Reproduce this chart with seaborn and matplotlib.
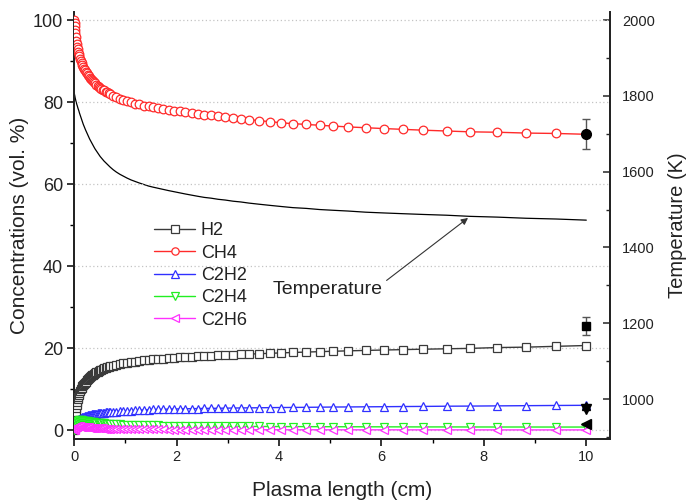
import numpy as np
import pandas as pd
import matplotlib
matplotlib.use("Agg")
import matplotlib.pyplot as plt
import seaborn as sns
from matplotlib.ticker import MultipleLocator

# ---------------- data ----------------
x_cm = [0, 0.005, 0.01, 0.015, 0.02, 0.03, 0.04, 0.05, 0.06, 0.07,
        0.08, 0.09, 0.10, 0.115, 0.13, 0.145, 0.16, 0.175, 0.19, 0.205,
        0.22, 0.24, 0.26, 0.28, 0.30, 0.32, 0.34, 0.36, 0.38, 0.405,
        0.43, 0.455, 0.48, 0.505, 0.53, 0.555, 0.58, 0.61, 0.64, 0.67,
        0.70, 0.76, 0.82, 0.89, 0.96, 1.03, 1.11, 1.19, 1.27, 1.36,
        1.45, 1.54, 1.64, 1.74, 1.84, 1.95, 2.06, 2.17, 2.29, 2.41,
        2.54, 2.67, 2.81, 2.95, 3.10, 3.25, 3.41, 3.61, 3.82, 4.04,
        4.27, 4.53, 4.79, 5.06, 5.35, 5.69, 6.04, 6.42, 6.82, 7.27,
        7.73, 8.26, 8.82, 9.41, 10.0]

h2 = [0, 1, 2, 2.8, 3.5, 4.6, 5.5, 6.3, 7, 7.6,
      8.2, 8.6, 9, 9.5, 10, 10.4, 10.8, 11.1, 11.4, 11.65,
      11.9, 12.2, 12.5, 12.75, 13, 13.2, 13.4, 13.6, 13.8, 14.0,
      14.2, 14.35, 14.5, 14.65, 14.8, 14.95, 15.1, 15.25, 15.4, 15.5,
      15.6, 15.8, 16, 16.2, 16.4, 16.5, 16.7, 16.8, 17, 17.1,
      17.2, 17.3, 17.4, 17.5, 17.6, 17.7, 17.8, 17.9, 18, 18.1,
      18.2, 18.25, 18.3, 18.4, 18.5, 18.55, 18.6, 18.7, 18.8, 18.9,
      19, 19.1, 19.2, 19.3, 19.4, 19.5, 19.6, 19.7, 19.8, 19.9,
      20.0, 20.2, 20.3, 20.5, 20.7]

ch4 = [100, 99.3, 98.5, 97.7, 97, 96, 95, 94.2, 93.5, 92.9,
       92.3, 91.8, 91.3, 90.6, 90, 89.5, 89, 88.6, 88.2, 87.8,
       87.5, 87.1, 86.7, 86.3, 86, 85.7, 85.4, 85.1, 84.9, 84.6,
       84.3, 84.0, 83.8, 83.5, 83.3, 83.1, 82.9, 82.6, 82.4, 82.2,
       82, 81.6, 81.3, 80.9, 80.6, 80.3, 80, 79.7, 79.5, 79.2,
       79, 78.8, 78.6, 78.4, 78.2, 78, 77.8, 77.6, 77.4, 77.2,
       77, 76.8, 76.6, 76.4, 76.2, 76.0, 75.8, 75.5, 75.3, 75.0,
       74.8, 74.6, 74.4, 74.2, 74.0, 73.8, 73.6, 73.4, 73.2, 73.0,
       72.8, 72.7, 72.5, 72.4, 72.2]

c2h2 = [0.5, 0.75, 1, 1.25, 1.5, 1.75, 2, 2.15, 2.3, 2.45,
        2.6, 2.7, 2.8, 2.9, 3, 3.1, 3.2, 3.28, 3.35, 3.43,
        3.5, 3.58, 3.65, 3.72, 3.8, 3.85, 3.9, 3.95, 4.0, 4.05,
        4.1, 4.15, 4.2, 4.25, 4.3, 4.33, 4.35, 4.4, 4.45, 4.48,
        4.5, 4.55, 4.6, 4.7, 4.75, 4.8, 4.85, 4.9, 4.95, 5.0,
        5.05, 5.1, 5.12, 5.15, 5.2, 5.22, 5.25, 5.28, 5.3, 5.33,
        5.36, 5.38, 5.4, 5.43, 5.45, 5.48, 5.5, 5.52, 5.55, 5.58,
        5.6, 5.63, 5.66, 5.7, 5.72, 5.75, 5.78, 5.82, 5.85, 5.9,
        5.93, 5.98, 6.03, 6.08, 6.12]

c2h4 = [0, 0.5, 1, 1.3, 1.6, 1.9, 2.1, 2.2, 2.3, 2.35,
        2.4, 2.43, 2.45, 2.45, 2.45, 2.42, 2.4, 2.37, 2.35, 2.32,
        2.3, 2.25, 2.2, 2.15, 2.1, 2.05, 2.0, 1.97, 1.95, 1.92,
        1.9, 1.85, 1.8, 1.77, 1.75, 1.72, 1.7, 1.67, 1.65, 1.62,
        1.6, 1.55, 1.5, 1.45, 1.42, 1.4, 1.37, 1.34, 1.3, 1.28,
        1.25, 1.23, 1.2, 1.18, 1.16, 1.14, 1.12, 1.1, 1.08, 1.06,
        1.05, 1.03, 1.02, 1.0, 0.99, 0.98, 0.97, 0.96, 0.95, 0.94,
        0.93, 0.92, 0.91, 0.9, 0.89, 0.88, 0.87, 0.86, 0.85, 0.85,
        0.84, 0.83, 0.83, 0.82, 0.82]

c2h6 = [0, 0.2, 0.4, 0.55, 0.7, 0.8, 0.9, 0.95, 1.0, 1.0,
        1.0, 1.0, 1.0, 0.97, 0.95, 0.92, 0.9, 0.87, 0.85, 0.82,
        0.8, 0.77, 0.75, 0.72, 0.7, 0.67, 0.65, 0.62, 0.6, 0.58,
        0.56, 0.54, 0.52, 0.5, 0.49, 0.47, 0.46, 0.44, 0.43, 0.42,
        0.41, 0.39, 0.37, 0.35, 0.33, 0.32, 0.3, 0.29, 0.28, 0.27,
        0.26, 0.25, 0.24, 0.23, 0.22, 0.21, 0.21, 0.2, 0.2, 0.19,
        0.19, 0.18, 0.18, 0.17, 0.17, 0.17, 0.16, 0.16, 0.16, 0.15,
        0.15, 0.15, 0.15, 0.14, 0.14, 0.14, 0.14, 0.13, 0.13, 0.13,
        0.13, 0.12, 0.12, 0.12, 0.12]

temperature_K = [1807, 1803, 1800, 1796, 1793, 1787, 1782, 1777, 1773, 1768,
                 1764, 1760, 1755, 1749, 1743, 1737, 1731, 1725, 1720, 1715,
                 1710, 1704, 1698, 1692, 1686, 1681, 1676, 1671, 1666, 1660,
                 1655, 1650, 1645, 1640, 1636, 1632, 1628, 1624, 1620, 1616,
                 1612, 1605, 1599, 1593, 1588, 1583, 1578, 1574, 1570, 1566,
                 1562, 1559, 1556, 1553, 1550, 1547, 1544, 1541, 1538, 1535,
                 1532, 1530, 1527, 1525, 1522, 1520, 1517, 1514, 1511, 1508,
                 1505, 1503, 1500, 1498, 1496, 1493, 1491, 1489, 1487, 1485,
                 1482, 1480, 1477, 1475, 1472]

# experimental points at 10 cm
exp_x = [10.0]
exp_ch4 = [72.2]
exp_ch4_err = [3.7]
exp_h2 = [25.5]
exp_h2_err = [2.2]
exp_c2h2 = [6.0]
exp_c2h4 = [5.3]
exp_c2h6 = [1.6]

species = ["H2", "CH4", "C2H2", "C2H4", "C2H6"]
series = [h2, ch4, c2h2, c2h4, c2h6]
colors = ["#3a3a3a", "#ff2a2a", "#3030ff", "#22ee22", "#ff30ff"]
markers = ["s", "o", "^", "v", "<"]

# ---------------- style ----------------
sns.set_theme(style="white")
plt.rcParams["font.family"] = ["Liberation Sans", "DejaVu Sans"]
plt.rcParams["axes.linewidth"] = 1.3

fig = plt.figure(figsize=(6.86, 5.03), dpi=100)
ax = fig.add_axes([0.1083, 0.1272, 0.889 - 0.1083, 0.976 - 0.1272])
ax2 = ax.twinx()

df = pd.DataFrame({"x": np.tile(x_cm, len(species)),
                   "value": np.concatenate(series),
                   "species": np.repeat(species, len(x_cm))})

for sp, col, mk in zip(species, colors, markers):
    sub = df[df["species"] == sp]
    sns.lineplot(data=sub, x="x", y="value", ax=ax, color=col, marker=mk,
                 markersize=6.2, markerfacecolor="white", markeredgecolor=col,
                 markeredgewidth=0.9, linewidth=1.0, estimator=None,
                 sort=False, label=sp, zorder=3)

# experimental points
ax.errorbar(exp_x, exp_ch4, yerr=exp_ch4_err, fmt="o", color="black",
            ecolor="#555555", elinewidth=1, capsize=3, markersize=7, zorder=5)
ax.errorbar(exp_x, exp_h2, yerr=exp_h2_err, fmt="s", color="black",
            ecolor="#555555", elinewidth=1, capsize=3, markersize=6, zorder=5)
ax.plot(exp_x, exp_c2h2, "^", color="black", markersize=6, zorder=5)
ax.plot(exp_x, exp_c2h4, "v", color="black", markersize=7, zorder=5)
ax.plot(exp_x, exp_c2h6, "<", color="black", markersize=7, zorder=5)

# temperature on right axis
tdf = pd.DataFrame({"x": x_cm, "T": temperature_K})
sns.lineplot(data=tdf, x="x", y="T", ax=ax2, color="black", linewidth=0.9,
             estimator=None, sort=False, legend=False)

# axes limits and ticks
ax.set_xlim(0, 10.46)
ax.set_ylim(-2.1, 102)
ax2.set_ylim(894.5, 2021)

ax.xaxis.set_major_locator(MultipleLocator(2))
ax.xaxis.set_minor_locator(MultipleLocator(1))
ax.yaxis.set_major_locator(MultipleLocator(20))
ax.yaxis.set_minor_locator(MultipleLocator(10))
ax2.yaxis.set_major_locator(MultipleLocator(200))
ax2.yaxis.set_minor_locator(MultipleLocator(100))

ax.tick_params(axis="both", which="major", direction="out", length=5,
               width=1.1, color="black", labelcolor="#222222",
               bottom=True, left=True)
ax.tick_params(axis="x", which="major", labelsize=10.5, pad=3)
ax.tick_params(axis="y", which="major", labelsize=13, pad=3)
ax.tick_params(axis="both", which="minor", direction="out", length=3,
               width=1.0, color="black", bottom=True, left=True)
ax2.tick_params(axis="y", which="major", direction="in", length=5, width=1.1,
                labelsize=10.5, labelcolor="#222222", right=True, pad=9)
ax2.tick_params(axis="y", which="minor", direction="in", length=3, width=1.0,
                right=True)

ax.yaxis.grid(True, which="major", linestyle=(0, (1, 2)), color="#c4c4c4",
              linewidth=0.9)
ax.xaxis.grid(False)
ax2.grid(False)

for a in (ax, ax2):
    a.spines["top"].set_visible(False)
    for s in ("left", "right", "bottom"):
        a.spines[s].set_color("#222222")
        a.spines[s].set_linewidth(1.3)

ax.set_xlabel("Plasma length (cm)", fontsize=15, color="#222222", labelpad=12)
ax.set_ylabel("Concentrations (vol. %)", fontsize=15, color="#222222",
              labelpad=3)
ax2.set_ylabel("Temperature (K)", fontsize=14.5, color="#222222", labelpad=9)

ax.annotate("Temperature", xy=(7.69, 51.8), xytext=(4.94, 34.3),
            ha="center", va="center", fontsize=14, color="#222222",
            arrowprops=dict(arrowstyle="-|>", color="#333333", lw=0.8,
                            mutation_scale=10, shrinkA=1, shrinkB=0,
                            relpos=(1.0, 0.85)))

leg = ax.legend(loc="upper left", bbox_to_anchor=(0.135, 0.525), frameon=False,
                fontsize=13, handlelength=2.3, labelspacing=0.3,
                handletextpad=0.3, borderaxespad=0, markerscale=0.85)
for t in leg.get_texts():
    t.set_color("#222222")

ax.set_zorder(ax2.get_zorder() + 1)
ax.patch.set_visible(False)

fig.savefig("out.png", dpi=100)
